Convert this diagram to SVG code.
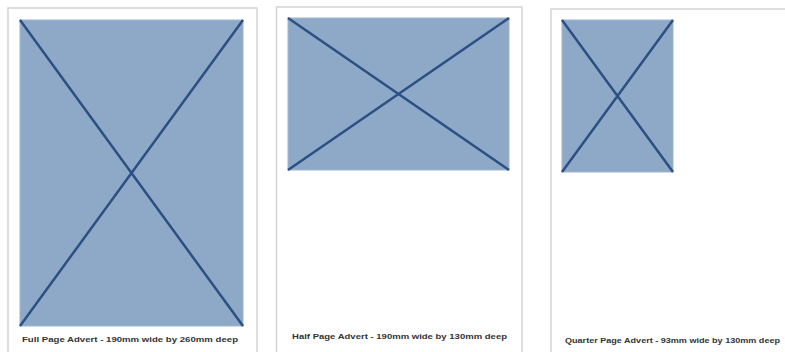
<svg xmlns="http://www.w3.org/2000/svg" width="785" height="352" viewBox="0 0 785 352">
<style>
.page{fill:#fff;stroke:#d4d4d4;stroke-width:1.5}
.ad{fill:#8ea8c8;stroke:#9fb5d0;stroke-width:1}
.x{stroke:#2b5083;stroke-width:2.5;fill:none}
.lbl{font-family:"Liberation Sans",Arial,sans-serif;font-weight:bold;font-size:8px;fill:#333;text-anchor:middle}
</style>
<rect width="785" height="352" fill="#fff"/>
<g id="full-page">
<rect class="page" x="8" y="8" width="249" height="360"/>
<rect class="ad" x="20" y="20" width="223" height="306"/>
<path class="x" d="M20 20 L243 326 M243 20 L20 326"/>
<text class="lbl" x="130" y="342" textLength="216" lengthAdjust="spacingAndGlyphs">Full Page Advert - 190mm wide by 260mm deep</text>
</g>
<g id="half-page">
<rect class="page" x="276.5" y="7" width="245.5" height="360"/>
<rect class="ad" x="288" y="18" width="221" height="152"/>
<path class="x" d="M288 18 L509 170 M509 18 L288 170"/>
<text class="lbl" x="399.5" y="339" textLength="215" lengthAdjust="spacingAndGlyphs">Half Page Advert - 190mm wide by 130mm deep</text>
</g>
<g id="quarter-page">
<rect class="page" x="551" y="9" width="250" height="360"/>
<rect class="ad" x="562" y="20" width="111" height="152"/>
<path class="x" d="M562 20 L673 172 M673 20 L562 172"/>
<text class="lbl" x="672.5" y="343" textLength="215" lengthAdjust="spacingAndGlyphs">Quarter Page Advert - 93mm wide by 130mm deep</text>
</g>
<g id="connectors"/>
</svg>
